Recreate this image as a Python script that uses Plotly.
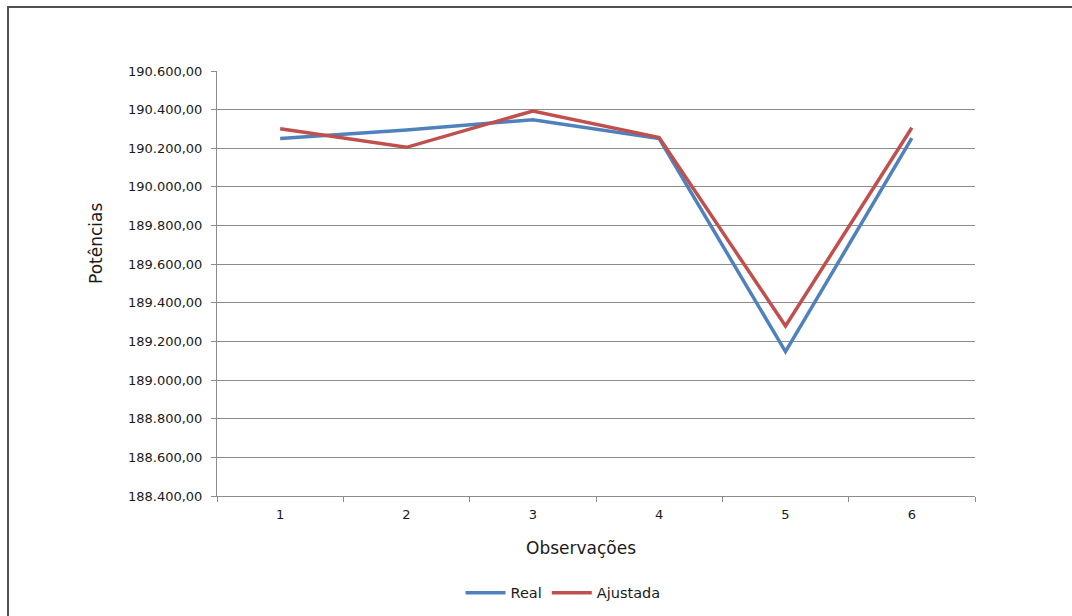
import plotly.graph_objects as go

# Observations and power values
observacoes = [1, 2, 3, 4, 5, 6]
real = [190250, 190295, 190348, 190250, 189147, 190252]
ajustada = [190301, 190205, 190393, 190255, 189280, 190306]

y_ticks = list(range(188400, 190601, 200))

FONT = "DejaVu Sans"
GRID = "#8c8c8c"
TEXT = "#1a1a1a"

fig = go.Figure()
fig.add_trace(go.Scatter(
    x=observacoes, y=real, name="Real", mode="lines",
    line=dict(color="#4F81BD", width=3.5),
))
fig.add_trace(go.Scatter(
    x=observacoes, y=ajustada, name="Ajustada", mode="lines",
    line=dict(color="#C0504D", width=3.5),
))

fig.update_layout(
    width=1072, height=616,
    margin=dict(l=217, r=97, t=71, b=120, autoexpand=False),
    paper_bgcolor="white", plot_bgcolor="white",
    separators=",.",
    font=dict(family=FONT, size=13, color=TEXT),
    showlegend=True,
    legend=dict(
        orientation="h", x=0.4565, xanchor="center", y=-0.228, yanchor="middle",
        font=dict(family=FONT, size=14.5, color=TEXT), tracegroupgap=0,
        itemwidth=40,
    ),
    shapes=[dict(
        type="rect", xref="paper", yref="paper",
        x0=-0.2757, x1=1.5, y0=-1.0, y1=1.1506,
        line=dict(color="#505050", width=2), fillcolor="rgba(0,0,0,0)",
        layer="below",
    )],
    annotations=[
        dict(text="Observações", xref="paper", yref="paper", x=0.4796, y=-0.1224,
             xanchor="center", yanchor="middle", showarrow=False,
             font=dict(family=FONT, size=17, color=TEXT)),
        dict(text="Potências", xref="paper", yref="paper", x=-0.1596, y=0.593,
             xanchor="center", yanchor="middle", showarrow=False, textangle=-90,
             font=dict(family=FONT, size=17, color=TEXT)),
    ],
)

fig.update_xaxes(
    range=[0.5, 6.5], tickvals=observacoes, ticktext=[str(v) for v in observacoes],
    ticks="", showgrid=False, zeroline=False,
    showline=True, linecolor=GRID, linewidth=1,
    minor=dict(ticks="outside", tick0=0.5, dtick=1, ticklen=5, tickcolor=GRID, showgrid=False),
    tickfont=dict(family=FONT, size=13, color=TEXT),
    ticklabelstandoff=6,
)

fig.update_yaxes(
    range=[188400, 190600], tickvals=y_ticks, tickformat=",.2f",
    ticks="outside", ticklen=5, tickcolor=GRID,
    showgrid=True, gridcolor=GRID, gridwidth=1, zeroline=False,
    showline=True, linecolor=GRID, linewidth=1,
    tickfont=dict(family=FONT, size=13, color=TEXT),
    ticklabelstandoff=6,
)

fig.write_html("out.html")
